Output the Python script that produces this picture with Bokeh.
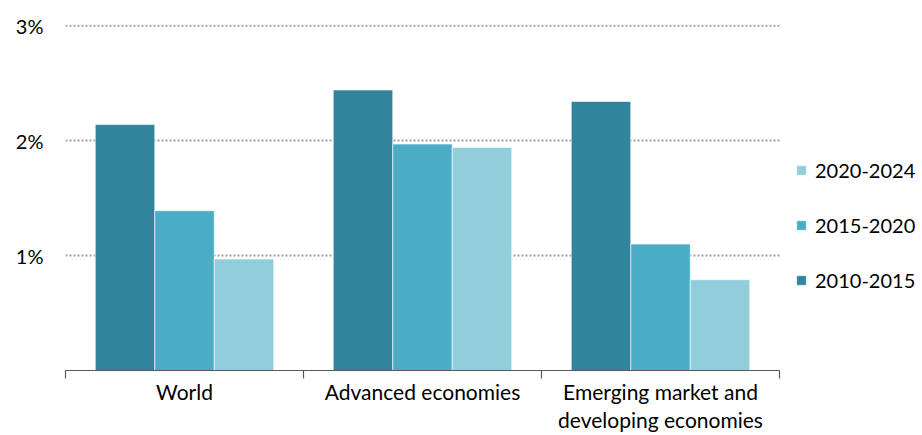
from bokeh.plotting import figure
from bokeh.models import Range1d, FixedTicker, Legend, LegendItem, ColumnDataSource
from bokeh.transform import dodge
from bokeh.embed import file_html
from bokeh.resources import INLINE

categories = ["World", "Advanced economies", "Emerging market and\ndeveloping economies"]
periods = ["2010-2015", "2015-2020", "2020-2024"]
v_2010_2015 = [2.14, 2.44, 2.34]
v_2015_2020 = [1.39, 1.97, 1.10]
v_2020_2024 = [0.97, 1.94, 0.79]
colors = ["#31849B", "#4BACC6", "#92CDDC"]
y_ticks = [1, 2, 3]
y_tick_labels = ["1%", "2%", "3%"]

FONT = "Lato"

# layout (pixels)
W, H = 920, 435
LEFT, TOP, BOTTOM = 65, 24, 62
DATA_W = 714  # pixel width of the category area
n = len(categories)
x_end = n * (W - LEFT) / DATA_W

centers = [i + 0.5 for i in range(n)]
src = ColumnDataSource(dict(x=centers, a=v_2010_2015, b=v_2015_2020, c=v_2020_2024))
grid_src = ColumnDataSource(dict(y=y_ticks, x0=[0] * len(y_ticks), x1=[n] * len(y_ticks)))

p = figure(width=W, height=H, output_backend="svg", toolbar_location=None,
           x_range=Range1d(0, x_end), y_range=Range1d(0, 3.01))
p.min_border_left = LEFT
p.min_border_right = 0
p.min_border_top = TOP
p.min_border_bottom = BOTTOM
p.outline_line_color = None
p.background_fill_color = "white"
p.xgrid.grid_line_color = None
p.ygrid.grid_line_color = None

# dotted gridlines spanning only the category area
p.segment(x0="x0", x1="x1", y0="y", y1="y", source=grid_src,
          line_color="#a0a0a0", line_dash="2 2", line_width=2)

renderers = []
for col, off, color in zip(["a", "b", "c"], [-0.25, 0.0, 0.25], colors):
    r = p.vbar(x=dodge("x", off, range=p.x_range), top=col, width=0.25, bottom=0,
               source=src, fill_color=color, line_color="white", line_width=0.6)
    renderers.append(r)

# x axis
xa = p.xaxis[0]
xa.bounds = (0, n)
xa.ticker = FixedTicker(ticks=centers, minor_ticks=list(range(n + 1)))
xa.major_label_overrides = {c: lab for c, lab in zip(centers, categories)}
xa.major_tick_out = 0
xa.major_tick_in = 0
xa.minor_tick_out = 8
xa.minor_tick_in = 0
xa.minor_tick_line_color = "#595959"
xa.minor_tick_line_width = 1.2
xa.axis_line_color = "#595959"
xa.axis_line_width = 1.2
xa.major_label_text_font = FONT
xa.major_label_text_font_size = "21px"
xa.major_label_text_line_height = 1.15
xa.major_label_text_color = "#000000"
xa.major_label_standoff = 0

# y axis
ya = p.yaxis[0]
ya.ticker = FixedTicker(ticks=y_ticks)
ya.major_label_overrides = {t: l for t, l in zip(y_ticks, y_tick_labels)}
ya.axis_line_color = None
ya.major_tick_line_color = None
ya.major_tick_out = 0
ya.major_tick_in = 0
ya.minor_tick_line_color = None
ya.major_label_text_font = FONT
ya.major_label_text_font_size = "20px"
ya.major_label_text_color = "#000000"
ya.major_label_standoff = 22

items = [LegendItem(label=periods[i], renderers=[renderers[i]]) for i in [2, 1, 0]]
legend = Legend(items=items, location=(730, 78))
legend.border_line_color = None
legend.background_fill_alpha = 0
legend.padding = 0
legend.margin = 0
legend.glyph_width = 12
legend.glyph_height = 12
legend.label_height = 20
legend.spacing = 31
legend.label_standoff = 8
legend.label_text_font = FONT
legend.label_text_font_size = "20px"
legend.label_text_color = "#000000"
p.add_layout(legend, "center")

open("out.html", "w").write(file_html(p, INLINE))
